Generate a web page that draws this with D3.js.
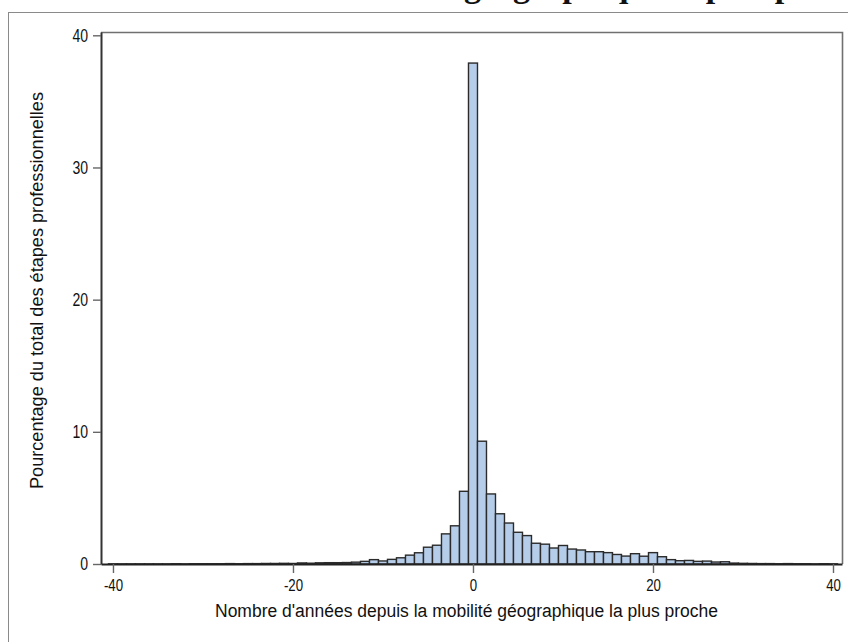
<!DOCTYPE html>
<html>
<head>
<meta charset="utf-8">
<script src="https://cdn.jsdelivr.net/npm/d3@7"></script>
<style>
  html, body { margin: 0; padding: 0; background: #fff; }
  svg { display: block; }
  text { font-family: "Liberation Sans", Arial, sans-serif; fill: #111; }
</style>
</head>
<body>
<div id="chart"></div>
<script>
// Years relative to the nearest geographic move (bin centres)
const years = d3.range(-41, 41);

// Share of all career steps (%) per year, from -41 to 40
const pctLeft = [
  0.00, 0.01, 0.01, 0.01, 0.01, 0.01, 0.01, 0.01, 0.02, 0.01, 0.02, 0.02,   // -41 .. -30
  0.02, 0.02, 0.03, 0.02, 0.03, 0.03, 0.04, 0.04, 0.05, 0.04,               // -29 .. -20
  0.08, 0.06, 0.09, 0.10, 0.10, 0.11, 0.14, 0.20, 0.33, 0.23,               // -19 .. -10
  0.35, 0.47, 0.67, 0.85, 1.27, 1.42, 2.28, 2.89, 5.50                      // -9 .. -1
];
const pctCentre = [37.9];                                                   // 0
const pctRight = [
  9.29, 5.30, 3.80, 3.10, 2.40, 2.15, 1.57, 1.50, 1.21, 1.40,               // 1 .. 10
  1.13, 1.06, 0.93, 0.93, 0.86, 0.72, 0.60, 0.78, 0.59, 0.86,               // 11 .. 20
  0.55, 0.33, 0.25, 0.27, 0.20, 0.22, 0.15, 0.17, 0.07, 0.05,               // 21 .. 30
  0.04, 0.03, 0.03, 0.02, 0.03, 0.02, 0.02, 0.01, 0.02, 0.01                // 31 .. 40
];
const percents = pctLeft.concat(pctCentre, pctRight);

const xTicks = [-40, -20, 0, 20, 40];
const yTicks = [0, 10, 20, 30, 40];

const titleText = "géographique la plus proche";
const xLabel = "Nombre d'années depuis la mobilité géographique la plus proche";
const yLabel = "Pourcentage du total des étapes professionnelles";

const W = 848, H = 642;
const plot = { left: 101, right: 842, top: 32, bottom: 564 };

const svg = d3.select("#chart").append("svg")
  .attr("width", W).attr("height", H);

svg.append("rect").attr("width", W).attr("height", H).attr("fill", "#fff");

// Title (mostly above the page edge)
svg.append("text")
  .attr("x", 464).attr("y", -3)
  .style("font-family", "'Liberation Serif', 'DejaVu Serif', serif")
  .style("font-weight", "bold")
  .style("font-size", "34px")
  .text(titleText);

// Outer frame of the graph area
svg.append("rect")
  .attr("x", 8.5).attr("y", 12.5)
  .attr("width", W + 20).attr("height", H + 20)
  .attr("fill", "none").attr("stroke", "#8a8a8a").attr("stroke-width", 1);

const x = d3.scaleLinear().domain([-41.33, 41.0]).range([plot.left, plot.right]);
const y = d3.scaleLinear().domain([0, 40.25]).range([plot.bottom, plot.top]);

// Plot box: top and right sides
svg.append("path")
  .attr("d", `M${plot.left},${plot.top + 0.5}H${plot.right + 0.5}V${plot.bottom}`)
  .attr("fill", "none").attr("stroke", "#707070").attr("stroke-width", 1.6);

// Bars
const data = years.map((yr, i) => ({ yr, v: percents[i] }));
svg.append("g").selectAll("rect")
  .data(data)
  .join("rect")
  .attr("x", d => x(d.yr - 0.5))
  .attr("width", d => x(d.yr + 0.5) - x(d.yr - 0.5))
  .attr("y", d => y(d.v))
  .attr("height", d => y(0) - y(d.v))
  .attr("fill", "#b6cde9")
  .attr("stroke", "#2b2b2b")
  .attr("stroke-width", 1.4);

const labelScale = 0.78;

// Y axis
const yAxis = svg.append("g")
  .attr("transform", `translate(${plot.left},0)`)
  .call(d3.axisLeft(y).tickValues(yTicks).tickFormat(d => String(d))
    .tickSize(8).tickPadding(4).tickSizeOuter(0));
yAxis.select(".domain").attr("stroke", "#333").attr("stroke-width", 2);
yAxis.selectAll(".tick line").attr("stroke", "#666").attr("stroke-width", 1.4);
yAxis.selectAll(".tick text")
  .attr("font-size", 18)
  .attr("font-family", "'Liberation Sans', Arial, sans-serif")
  .attr("fill", "#111")
  .attr("x", -13 / labelScale)
  .attr("transform", `scale(${labelScale},1)`);

// X axis
const xAxis = svg.append("g")
  .attr("transform", `translate(0,${plot.bottom})`)
  .call(d3.axisBottom(x).tickValues(xTicks).tickFormat(d => String(d))
    .tickSize(9).tickPadding(6).tickSizeOuter(0));
xAxis.select(".domain").attr("stroke", "#222").attr("stroke-width", 2.2);
xAxis.selectAll(".tick line").attr("stroke", "#666").attr("stroke-width", 1.4);
xAxis.selectAll(".tick text")
  .attr("font-size", 17)
  .attr("font-family", "'Liberation Sans', Arial, sans-serif")
  .attr("fill", "#111")
  .attr("transform", `scale(${labelScale},1)`);
xAxis.selectAll(".tick").each(function (d) {
  d3.select(this).select("text").attr("x", 0);
});

// Axis titles
svg.append("text")
  .attr("x", 215).attr("y", 617)
  .attr("font-size", 18)
  .attr("textLength", 503)
  .attr("lengthAdjust", "spacingAndGlyphs")
  .text(xLabel);

svg.append("text")
  .attr("transform", "translate(43,489) rotate(-90)")
  .attr("x", 0).attr("y", 0)
  .attr("font-size", 18)
  .attr("textLength", 397)
  .attr("lengthAdjust", "spacingAndGlyphs")
  .text(yLabel);
</script>
</body>
</html>
